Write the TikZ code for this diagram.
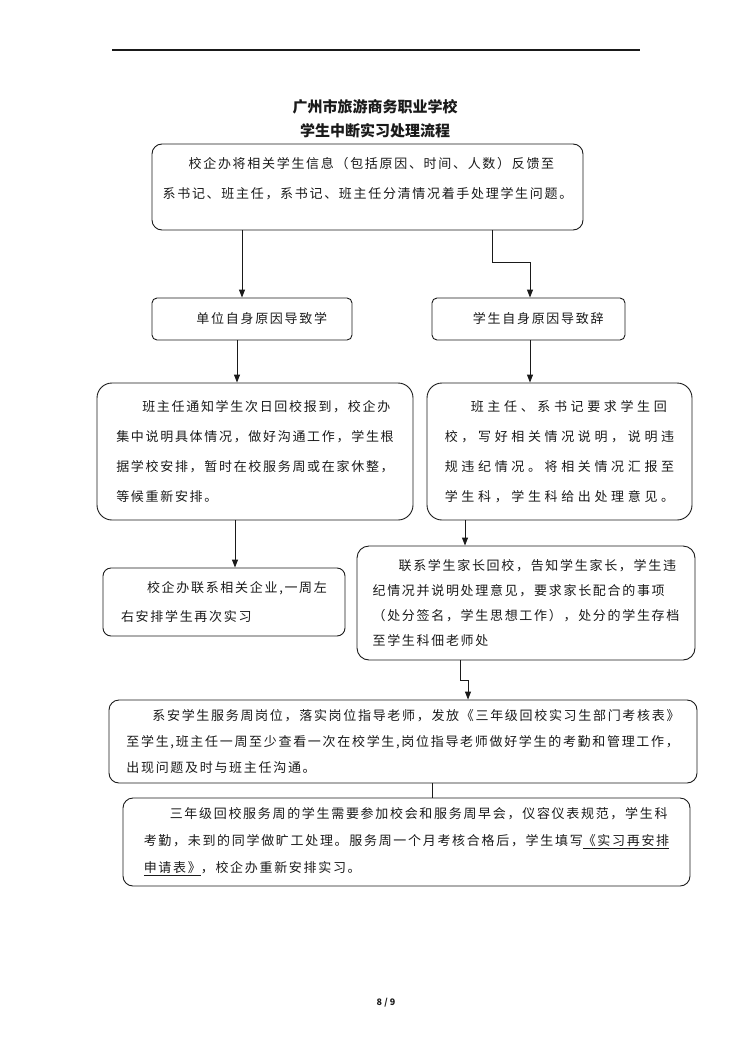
\documentclass[tikz,border=0pt]{standalone}
\usepackage{fontspec}
\setmainfont{Noto Sans CJK SC}
\newfontfamily\bodyface[LetterSpace=13]{Noto Sans CJK SC}
\newfontfamily\wideface[LetterSpace=28]{Noto Sans CJK SC}
\usetikzlibrary{arrows.meta,positioning}
\definecolor{Ink}{HTML}{1A1A1A}
\tikzset{
  card/.style={
    draw=Ink, line width=0.9pt, rounded corners=10pt, text=Ink,
    align=left, inner sep=0pt, font=\bodyface\fontsize{13}{30}\selectfont
  },
  tag/.style={card, rounded corners=5pt},
  heading/.style={text=Ink, font=\bfseries\fontsize{15}{18}\selectfont},
  flow/.style={-{Triangle[length=8pt,width=6pt]}, line width=0.9pt, draw=Ink},
  link/.style={line width=0.9pt, draw=Ink}
}
\begin{document}
\begin{tikzpicture}[x=1pt,y=-1pt]
  \useasboundingbox (0,0) rectangle (750,1060);
  \draw[line width=1.2pt,Ink] (112,50) coordinate (rulel) -- (640,50) coordinate (ruler);
  \node[heading] (title) at (375,107) {广州市旅游商务职业学校};
  \node[heading] (subtitle) at (375,131) {学生中断实习处理流程};
  % boxes
  \node[card, minimum width=431pt, minimum height=86pt] (info) at (367.5,187)
    {\hspace*{2em}校企办将相关学生信息（包括原因、时间、人数）反馈至\\
     系书记、班主任，系书记、班主任分清情况着手处理学生问题。\\[-12pt]~};
  \node[tag, minimum width=200pt, minimum height=42pt] (unitcause) at (252,319)
    {\hspace*{1.5em}单位自身原因导致学};
  \node[tag, minimum width=193pt, minimum height=42pt] (selfcause) at (528.5,319)
    {\hspace*{1.5em}学生自身原因导致辞};
  \node[card, rounded corners=15pt, minimum width=316pt, minimum height=137pt] (notify) at (255,451.5)
    {\hspace*{2em}班主任通知学生次日回校报到，校企办\\
     集中说明具体情况，做好沟通工作，学生根\\
     据学校安排，暂时在校服务周或在家休整，\\
     等候重新安排。};
  \node[card, rounded corners=15pt, minimum width=265pt, minimum height=137pt,
        font=\wideface\fontsize{13}{30}\selectfont] (require) at (559.5,451.5)
    {\hspace*{2em}班主任、系书记要求学生回\\
     校，写好相关情况说明，说明违\\
     规违纪情况。将相关情况汇报至\\
     学生科，学生科给出处理意见。};
  \node[card, rounded corners=8pt, minimum width=242pt, minimum height=68pt,
        font=\bodyface\fontsize{13}{29}\selectfont] (rearrange) at (224,602)
    {\hspace*{2em}校企办联系相关企业,一周左\\
     右安排学生再次实习\hspace*{3em}};
  \node[card, rounded corners=12pt, minimum width=338pt, minimum height=114pt,
        font=\bodyface\fontsize{13}{25}\selectfont] (parents) at (526,603)
    {\hspace*{2em}联系学生家长回校，告知学生家长，学生违\\
     纪情况并说明处理意见，要求家长配合的事项\\
     （处分签名，学生思想工作），处分的学生存档\\
     至学生科佃老师处};
  \node[card, minimum width=588pt, minimum height=83pt,
        font=\bodyface\fontsize{13}{26}\selectfont] (service) at (403,741.5)
    {\hspace*{2em}系安学生服务周岗位，落实岗位指导老师，发放《三年级回校实习生部门考核表》\\
     至学生,班主任一周至少查看一次在校学生,岗位指导老师做好学生的考勤和管理工作，\\
     出现问题及时与班主任沟通。};
  \node[card, minimum width=567pt, minimum height=88pt,
        font=\bodyface\fontsize{13}{27}\selectfont] (assess) at (406.5,842)
    {\hspace*{2em}三年级回校服务周的学生需要参加校会和服务周早会，仪容仪表规范，学生科\\
     考勤，未到的同学做旷工处理。服务周一个月考核合格后，学生填写\underline{《实习再安排}\\
     \underline{申请表》}，校企办重新安排实习。};
  \node[font=\bfseries\fontsize{9}{11}\selectfont, text=Ink] (pageno) at (386,1003) {8 / 9};
  % connectors
  \draw[flow] ([xshift=-10pt]unitcause.north |- info.south) -- ([xshift=-10pt]unitcause.north);
  \draw[flow] ([xshift=124.5pt]info.south) -- ++(0,32) -| ([xshift=1.5pt]selfcause.north);
  \draw[flow] ([xshift=-15pt]unitcause.south) -- ([xshift=-15pt]unitcause.south |- notify.north);
  \draw[flow] ([xshift=1.5pt]selfcause.south) -- ([xshift=1.5pt]selfcause.south |- require.north);
  \draw[flow] ([xshift=-20pt]notify.south) -- ([xshift=-20pt]notify.south |- rearrange.north);
  \draw[flow] ([xshift=-94.5pt]require.south) -- ([xshift=-94.5pt]require.south |- parents.north);
  \draw[flow] ([xshift=-66pt]parents.south) -- ++(0,20) -| ([xshift=65pt]service.north);
  \draw[link] ([xshift=29pt]service.south) -- ([xshift=29pt]service.south |- assess.north);
\end{tikzpicture}
\end{document}
